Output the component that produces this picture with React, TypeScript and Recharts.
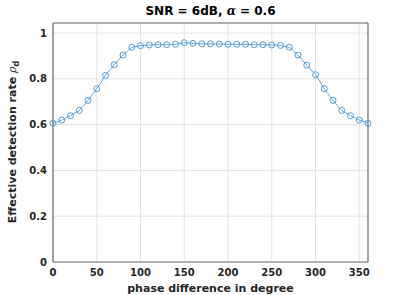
import { LineChart, Line, XAxis, YAxis, CartesianGrid } from 'recharts'

const phase = [0, 10, 20, 30, 40, 50, 60, 70, 80, 90, 100, 110, 120, 130, 140, 150, 160, 170, 180,
  190, 200, 210, 220, 230, 240, 250, 260, 270, 280, 290, 300, 310, 320, 330, 340, 350, 360]
const rate = [0.606, 0.62, 0.639, 0.662, 0.706, 0.757, 0.815, 0.862, 0.904, 0.938, 0.945, 0.948, 0.949,
  0.949, 0.951, 0.958, 0.955, 0.953, 0.953, 0.952, 0.951, 0.951, 0.951, 0.949, 0.949, 0.948, 0.946,
  0.938, 0.904, 0.86, 0.818, 0.757, 0.706, 0.662, 0.639, 0.62, 0.606]
const xTicks = [0, 50, 100, 150, 200, 250, 300, 350]
const yTicks = [0, 0.2, 0.4, 0.6, 0.8, 1]

const data = phase.map((p, i) => ({ phase: p, rate: rate[i] }))

const font = 'DejaVu Sans, sans-serif'
const axisColor = '#6e6e6e'
const lineColor = '#3f93d3'
const tickStyle = { fontFamily: font, fontSize: 10, fontWeight: 'bold', fill: '#262626' }

const App = () => {
  return (
    <div style={{ position: 'absolute', left: 0, top: 0, width: 407, height: 295, background: '#fff' }}>
      <div style={{ position: 'absolute', left: 53, width: 315, top: 4, textAlign: 'center', fontFamily: font, fontSize: 12, fontWeight: 'bold', color: '#000' }}>
        SNR = 6dB, <span style={{ fontFamily: 'DejaVu Serif, serif', fontStyle: 'italic' }}>α</span> = 0.6
      </div>
      <LineChart width={407} height={295} data={data} margin={{ top: 23, right: 39, bottom: 0, left: 0 }}>
        <CartesianGrid stroke="#e3e3e3" strokeWidth={1} />
        <XAxis dataKey="phase" type="number" domain={[0, 360]} ticks={xTicks} height={33}
          tickLine={false} tickSize={0} tickMargin={7} tick={tickStyle}
          axisLine={{ stroke: axisColor, strokeWidth: 1.2 }}
          label={{
            content: () => (
              <text x={210.5} y={292} textAnchor="middle" fontFamily={font} fontSize={11} fontWeight="bold" fill="#262626">
                phase difference in degree
              </text>
            ),
          }} />
        <XAxis xAxisId="bin" dataKey="phase" type="number" domain={[0, 360]} ticks={xTicks}
          orientation="bottom" mirror tick={false} tickSize={4} axisLine={false} stroke={axisColor} />
        <XAxis xAxisId="top" dataKey="phase" type="number" domain={[0, 360]} ticks={xTicks}
          orientation="top" mirror tick={false} tickSize={4} axisLine={{ stroke: axisColor, strokeWidth: 1.2 }} stroke={axisColor} />
        <YAxis type="number" domain={[0, 1.044]} ticks={yTicks} width={53}
          tickLine={false} tickSize={0} tickMargin={6} tick={tickStyle}
          axisLine={{ stroke: axisColor, strokeWidth: 1.2 }}
          label={{
            content: () => (
              <text x={16} y={142} transform="rotate(-90 16 142)" textAnchor="middle" fontFamily={font} fontSize={11} fontWeight="bold" fill="#262626">
                Effective detection rate <tspan fontStyle="italic" fontWeight="normal" fontFamily="DejaVu Serif, serif">ρ</tspan><tspan fontSize={8} dy={3}>d</tspan>
              </text>
            ),
          }} />
        <YAxis yAxisId="lin" type="number" domain={[0, 1.044]} ticks={yTicks}
          orientation="left" mirror tick={false} tickSize={4} axisLine={false} stroke={axisColor} />
        <YAxis yAxisId="right" type="number" domain={[0, 1.044]} ticks={yTicks}
          orientation="right" mirror tick={false} tickSize={4} axisLine={{ stroke: axisColor, strokeWidth: 1.2 }} stroke={axisColor} />
        <Line dataKey="rate" stroke={lineColor} strokeWidth={0.8} isAnimationActive={false}
          dot={{ r: 3, fill: 'none', stroke: lineColor, strokeWidth: 0.9 }} />
      </LineChart>
    </div>
  )
}

export default App
